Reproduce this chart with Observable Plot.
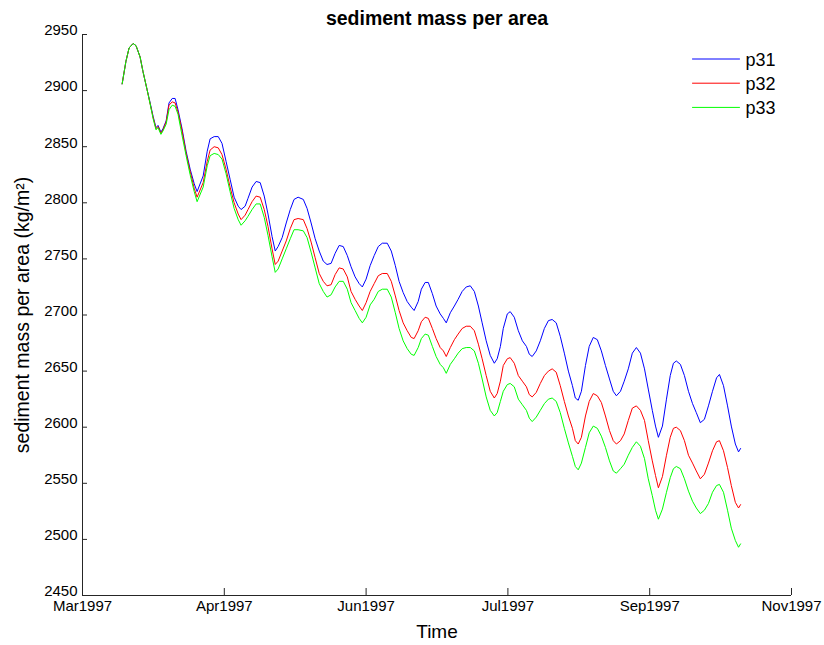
<!DOCTYPE html>
<html><head><meta charset="utf-8">
<script src="https://cdn.jsdelivr.net/npm/d3@7"></script>
<script src="https://cdn.jsdelivr.net/npm/@observablehq/plot@0.6"></script>
<style>body{margin:0;background:#fff;}</style>
</head><body><div id="chart"></div>
<script>
const title = "sediment mass per area";
const xLabel = "Time";
const yLabel = "sediment mass per area (kg/m²)";
const seriesNames = ["p31", "p32", "p33"];
const seriesColors = ["#0000ff", "#ff0000", "#00ff00"];

// days after 1 Mar 1997
const days = [
13.7,15.0,16.1,17.5,18.5,19.9,20.9,22.3,23.3,24.4,
25.4,26.1,27.1,27.8,28.9,29.9,31.0,32.0,33.0,34.4,
35.8,37.2,38.6,39.6,41.7,43.1,44.1,45.5,46.9,48.2,
49.6,51.0,52.4,53.8,54.8,56.2,57.2,58.6,60.0,61.4,
62.8,64.1,65.5,66.6,67.6,69.0,70.4,71.8,73.1,74.5,
76.3,77.6,79.0,80.4,81.8,83.2,84.5,85.9,87.3,88.7,
90.1,91.5,92.8,94.2,95.6,96.7,98.0,99.4,100.8,102.2,
103.6,105.3,106.7,108.1,109.4,110.8,112.2,113.6,114.6,116.0,
117.1,118.4,119.5,120.9,122.2,123.6,124.7,125.7,127.1,128.5,
129.8,131.2,132.6,134.0,135.4,136.8,138.1,139.5,140.9,142.3,
143.3,144.4,145.4,146.8,147.8,149.2,150.6,152.0,153.4,154.4,
155.4,156.8,158.2,159.6,161.0,162.3,163.7,165.1,166.5,167.9,
169.3,170.3,171.3,172.4,173.8,175.1,176.5,177.9,179.3,180.7,
182.1,183.4,184.5,185.9,187.2,188.6,190.0,191.4,192.8,194.2,
195.5,196.9,198.0,199.0,200.4,201.8,203.1,204.2,205.2,206.6,
208.0,209.4,210.8,212.1,213.5,214.9,216.3,217.7,219.1,220.1,
221.5,222.9,224.2,225.6,226.7,227.4];

const p31 = [
2906,2926,2938,2942,2940,2930,2917,2901,2890,2877,
2867,2869,2863,2866,2873,2889,2893,2893,2883,2866,
2846,2830,2817,2810,2824,2846,2857,2859,2859,2853,
2837,2821,2805,2797,2794,2797,2804,2814,2819,2818,
2806,2790,2770,2757,2761,2769,2782,2794,2803,2805,
2803,2795,2782,2768,2757,2748,2745,2746,2755,2762,
2761,2753,2743,2734,2728,2725,2732,2744,2753,2761,
2764,2764,2757,2744,2730,2720,2712,2707,2704,2712,
2723,2729,2729,2719,2708,2701,2697,2693,2702,2708,
2714,2721,2725,2726,2721,2708,2693,2677,2664,2657,
2661,2672,2688,2701,2703,2698,2686,2677,2672,2665,
2663,2668,2677,2688,2695,2696,2693,2681,2666,2650,
2637,2626,2624,2632,2655,2672,2680,2678,2668,2655,
2643,2632,2628,2632,2641,2652,2666,2671,2666,2652,
2634,2615,2601,2591,2601,2625,2646,2657,2659,2656,
2646,2632,2621,2613,2604,2607,2619,2632,2644,2647,
2637,2619,2601,2585,2578,2581];

const p32 = [
2906,2926,2938,2942,2940,2930,2917,2901,2889,2876,
2866,2868,2862,2865,2872,2887,2890,2889,2881,2864,
2844,2828,2813,2805,2818,2837,2847,2850,2849,2843,
2830,2814,2800,2790,2785,2789,2794,2801,2806,2805,
2794,2779,2759,2745,2748,2757,2766,2777,2785,2786,
2785,2777,2765,2751,2737,2730,2726,2727,2736,2742,
2741,2734,2721,2714,2708,2704,2711,2721,2728,2735,
2737,2737,2730,2717,2704,2693,2686,2680,2679,2686,
2694,2698,2697,2688,2679,2671,2668,2663,2671,2678,
2683,2688,2690,2690,2686,2674,2661,2646,2632,2626,
2630,2641,2655,2661,2662,2657,2646,2641,2636,2629,
2627,2631,2639,2646,2650,2652,2649,2637,2623,2610,
2599,2588,2585,2591,2610,2623,2630,2628,2622,2610,
2597,2588,2585,2588,2594,2606,2617,2619,2615,2606,
2588,2570,2557,2546,2556,2575,2591,2599,2600,2597,
2588,2575,2568,2561,2554,2558,2568,2579,2587,2588,
2579,2564,2548,2533,2528,2531];

const p33 = [
2906,2926,2938,2942,2940,2930,2917,2901,2889,2875,
2865,2867,2861,2864,2870,2883,2887,2886,2879,2860,
2842,2825,2810,2801,2814,2833,2842,2844,2843,2839,
2826,2810,2795,2785,2780,2784,2788,2794,2799,2799,
2787,2771,2752,2738,2741,2750,2759,2768,2776,2776,
2775,2769,2756,2742,2728,2721,2716,2718,2725,2730,
2730,2723,2711,2704,2697,2693,2698,2709,2714,2721,
2723,2723,2716,2702,2688,2677,2670,2665,2664,2671,
2679,2683,2682,2672,2663,2656,2653,2648,2656,2661,
2666,2670,2671,2671,2668,2657,2643,2627,2615,2610,
2613,2623,2632,2638,2639,2636,2625,2620,2615,2608,
2605,2609,2615,2621,2625,2626,2623,2613,2599,2586,
2574,2565,2562,2568,2582,2595,2601,2599,2592,2582,
2570,2561,2559,2563,2567,2575,2582,2587,2583,2572,
2554,2539,2526,2518,2527,2542,2555,2563,2565,2563,
2554,2543,2534,2528,2523,2526,2532,2542,2548,2549,
2542,2526,2510,2499,2493,2496];

const yTicks = [2450,2500,2550,2600,2650,2700,2750,2800,2850,2900,2950];
const xTickDays = [0,49,98,147,196,245];
const xTickLabels = ["Mar1997","Apr1997","Jun1997","Jul1997","Sep1997","Nov1997"];

const t0 = Date.UTC(1997, 2, 1);
const toDate = d => new Date(t0 + d * 864e5);
const rows = [];
[p31, p32, p33].forEach((vals, k) => vals.forEach((v, i) =>
  rows.push({series: seriesNames[k], date: toDate(days[i]), value: v})));
const xTicks = xTickDays.map(toDate);
const labelOf = new Map(xTicks.map((d, i) => [+d, xTickLabels[i]]));

const axisColor = "#262626";
const legendShape = {draw(ctx, l) { ctx.moveTo(0, 0); ctx.lineTo(0, -l); }};
const legendMarks = seriesNames.flatMap((name, k) => [
  Plot.vector([name], {frameAnchor: "top-right", dx: -99, dy: 24.5 + 24.2 * k, length: 47,
    rotate: 90, anchor: "start", shape: legendShape, stroke: seriesColors[k], strokeWidth: 1}),
  Plot.text([name], {frameAnchor: "top-right", dx: -46, dy: 25.5 + 24.2 * k, textAnchor: "start",
    lineAnchor: "middle", fontSize: 18, text: d => d, fill: "#000"})
]);

const plot = Plot.plot({
  width: 824, height: 645,
  marginLeft: 82, marginRight: 33, marginTop: 34, marginBottom: 50,
  style: {fontFamily: '"Liberation Sans", Arial, sans-serif', fontSize: "15px", background: "#fff", color: "#000"},
  x: {type: "utc", domain: [xTicks[0], xTicks[xTicks.length - 1]]},
  y: {domain: [yTicks[0], yTicks[yTicks.length - 1]]},
  color: {domain: seriesNames, range: seriesColors},
  marks: [
    Plot.ruleY([yTicks[0]], {stroke: axisColor}),
    Plot.ruleX([xTicks[0]], {stroke: axisColor}),
    Plot.axisX({ticks: xTicks, tickSize: -7, tickFormat: () => "", label: null, stroke: axisColor}),
    Plot.axisX({ticks: xTicks, tickSize: 0, tickPadding: 5, tickFormat: d => labelOf.get(+d), label: null, fill: "#000"}),
    Plot.axisY({ticks: yTicks, tickSize: -5, tickFormat: () => "", label: null, stroke: axisColor}),
    Plot.axisY({ticks: yTicks, tickSize: 0, tickPadding: 5, tickFormat: d => String(d), label: null, fill: "#000", dy: -4}),
    Plot.line(rows, {x: "date", y: "value", z: "series", stroke: "series", strokeWidth: 1}),
    Plot.text([title], {frameAnchor: "top", dy: -16, lineAnchor: "middle", fontWeight: "bold", fontSize: 19.5, text: d => d, fill: "#000"}),
    Plot.text([xLabel], {frameAnchor: "bottom", dy: 36, lineAnchor: "middle", fontSize: 19, text: d => d, fill: "#000"}),
    Plot.text([yLabel], {frameAnchor: "left", dx: -60, rotate: -90, textAnchor: "middle", lineAnchor: "middle", fontSize: 19.5, text: d => d, fill: "#000"}),
    ...legendMarks
  ]
});
document.getElementById("chart").appendChild(plot);
</script>
</body></html>
